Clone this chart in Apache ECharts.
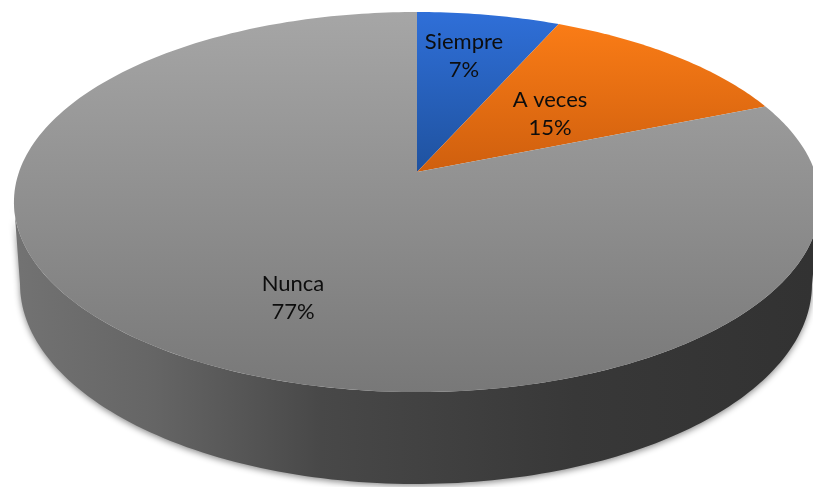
<!DOCTYPE html>
<html>
<head>
<meta charset="utf-8">
<style>html,body{margin:0;padding:0;background:#fff}#c{width:813px;height:487px}</style>
<script src="https://cdn.jsdelivr.net/npm/echarts@6/dist/echarts.min.js"></script>
</head>
<body>
<div id="c"></div>
<script>
const categories = ['Siempre', 'A veces', 'Nunca'];
const percents = [7, 15, 77];
const faceColors = [['#2f6fd8', '#1f529f'], ['#fa7c16', '#cf5f0e'], ['#a6a6a6', '#787878']];
const labelOffsets = [[47, -116], [133, -58], [-124, 126]];

// Perspective model of the disc: near edge larger than far edge.
const PERSP = 0.158;
const TOP_RIM = { cx: 417, cy: 172, a: 398, b: 185.3 };
const LOW_RIM = { cx: 416, cy: 252.4, a: 391, b: 195 };
const FORESHORTEN = 14.5 * Math.PI / 180;
const STEP = Math.PI / 180;

const warp = t => t - FORESHORTEN * (1 - Math.cos(t));
const project = (rim, t) => {
  const w = warp(t), u = Math.sin(w), v = Math.cos(w), d = 1 + PERSP * v;
  return [rim.cx + rim.a * u / d, rim.cy - rim.b * v / d];
};
const arc = (rim, from, to) => {
  const n = Math.max(2, Math.ceil((to - from) / STEP)), pts = [];
  for (let i = 0; i <= n; i++) pts.push(project(rim, from + (to - from) * i / n));
  return pts;
};
// Front part of the rim, found from the warped angle where the silhouette lies.
const isFront = t => Math.cos(warp(t)) < -PERSP;

const total = percents.reduce((s, v) => s + v, 0);
const starts = [];
percents.reduce((s, v, i) => { starts[i] = s; return s + v; }, 0);

const wallFill = {
  type: 'linear', global: true, x: 20, y: 0, x2: 813, y2: 0,
  colorStops: [
    { offset: 0, color: '#727272' },
    { offset: 0.17, color: '#656565' },
    { offset: 0.38, color: '#484848' },
    { offset: 0.7, color: '#383838' },
    { offset: 1, color: '#323232' }
  ]
};

function renderSlice(params, api) {
  const i = params.dataIndex;
  const a = starts[i] / total * 2 * Math.PI;
  const b = a + api.value(0) / total * 2 * Math.PI;
  const children = [];

  // Side wall: only the angles on the viewer's side of the disc.
  let fa = null, fb = null;
  for (let t = a; t <= b; t += STEP / 4) {
    if (isFront(t)) { if (fa === null) fa = t; fb = t; }
  }
  if (fa !== null && fb > fa) {
    const upper = arc(TOP_RIM, fa, fb);
    const lower = arc(LOW_RIM, fa, fb).reverse();
    children.push({
      type: 'polygon', silent: true, z2: 1,
      shape: { points: upper.concat(lower) },
      style: { fill: wallFill, shadowColor: 'rgba(0,0,0,0.45)', shadowBlur: 6, shadowOffsetY: 2 }
    });
  }

  // Top face.
  children.push({
    type: 'polygon', silent: true, z2: 2,
    shape: { points: [[TOP_RIM.cx, TOP_RIM.cy]].concat(arc(TOP_RIM, a, b)) },
    style: {
      fill: {
        type: 'linear', x: 0, y: 0, x2: 0, y2: 1,
        colorStops: [{ offset: 0, color: faceColors[i][0] }, { offset: 1, color: faceColors[i][1] }]
      }
    }
  });

  // Label.
  children.push({
    type: 'text', silent: true, z2: 5,
    x: TOP_RIM.cx + labelOffsets[i][0],
    y: TOP_RIM.cy + labelOffsets[i][1],
    style: {
      text: categories[i] + '\n' + api.value(0) + '%',
      fill: '#0d0d0d', font: '22px Lato', lineHeight: 28,
      align: 'center', verticalAlign: 'middle'
    }
  });
  return { type: 'group', children };
}

const chart = echarts.init(document.getElementById('c'), null, { renderer: 'canvas' });
chart.setOption({
  animation: false,
  backgroundColor: '#ffffff',
  series: [{
    type: 'custom',
    coordinateSystem: 'none',
    renderItem: renderSlice,
    data: percents.map((v, i) => ({ name: categories[i], value: [v] }))
  }]
});
</script>
</body>
</html>
